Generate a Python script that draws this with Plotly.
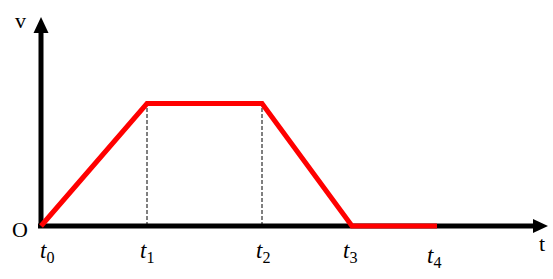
import plotly.graph_objects as go

# data
t_vals = [0.0, 1.0, 2.085, 2.934, 3.736]   # t0..t4
v_vals = [0.0, 1.0, 1.0, 0.0, 0.0]
t_labels = ["t<sub>0</sub>", "t<sub>1</sub>", "t<sub>2</sub>", "t<sub>3</sub>", "t<sub>4</sub>"]

W, H = 553, 279
ox, oy = 41, 226          # pixel origin
sx, sy = 106.0, 122.5     # pixels per unit

xr = [-ox / sx, (W - ox) / sx]
yr = [-(H - oy) / sy, oy / sy]

def px_x(p):
    return (p - ox) / sx

def px_y(p):
    return (oy - p) / sy

fig = go.Figure()

fig.add_trace(go.Scatter(x=t_vals, y=v_vals, mode="lines",
                         line=dict(color="#FF0000", width=5),
                         hoverinfo="skip", showlegend=False))

shapes = []
# dashed verticals at t1, t2
for i in (1, 2):
    shapes.append(dict(type="line", x0=t_vals[i], x1=t_vals[i], y0=0, y1=v_vals[i],
                       line=dict(color="black", width=1, dash="4px,2px"), layer="below"))
# axes
shapes.append(dict(type="line", x0=px_x(38), x1=px_x(535), y0=0, y1=0,
                   line=dict(color="black", width=5), layer="below"))
shapes.append(dict(type="line", x0=0, x1=0, y0=px_y(228), y1=px_y(30),
                   line=dict(color="black", width=5), layer="below"))
# arrowheads
xt, xb, hh = px_x(548), px_x(533), 7 / sy
shapes.append(dict(type="path", path=f"M {xt} 0 L {xb} {hh} L {xb} {-hh} Z",
                   fillcolor="black", line=dict(width=0)))
yt, yb, hw = px_y(17), px_y(33), 7.5 / sx
shapes.append(dict(type="path", path=f"M 0 {yt} L {hw} {yb} L {-hw} {yb} Z",
                   fillcolor="black", line=dict(width=0)))

fig.update_layout(shapes=shapes)

serif = "Liberation Serif"
ann = []
ann.append(dict(x=px_x(20), y=px_y(20), text="v", showarrow=False,
                font=dict(family=serif, size=22, color="black")))
ann.append(dict(x=px_x(20), y=px_y(229), text="O", showarrow=False,
                font=dict(family=serif, size=22, color="black")))
ann.append(dict(x=px_x(542), y=px_y(243), text="t", showarrow=False,
                font=dict(family=serif, size=22, color="black")))
lab_dx = [6, 0, 1, -2, -3]
lab_dy = [252, 252, 252, 252, 257]
for t, lab, dx, dy in zip(t_vals, t_labels, lab_dx, lab_dy):
    ann.append(dict(x=t, y=px_y(dy), xshift=dx, text=f"<i>t</i>" + lab[1:],
                    showarrow=False,
                    font=dict(family=serif, size=23, color="black")))
fig.update_layout(annotations=ann)

fig.update_layout(
    width=W, height=H,
    margin=dict(l=0, r=0, t=0, b=0),
    paper_bgcolor="white", plot_bgcolor="white",
    xaxis=dict(range=xr, visible=False, fixedrange=True),
    yaxis=dict(range=yr, visible=False, fixedrange=True),
    showlegend=False,
)

fig.write_html("out.html", config={"displayModeBar": False})
